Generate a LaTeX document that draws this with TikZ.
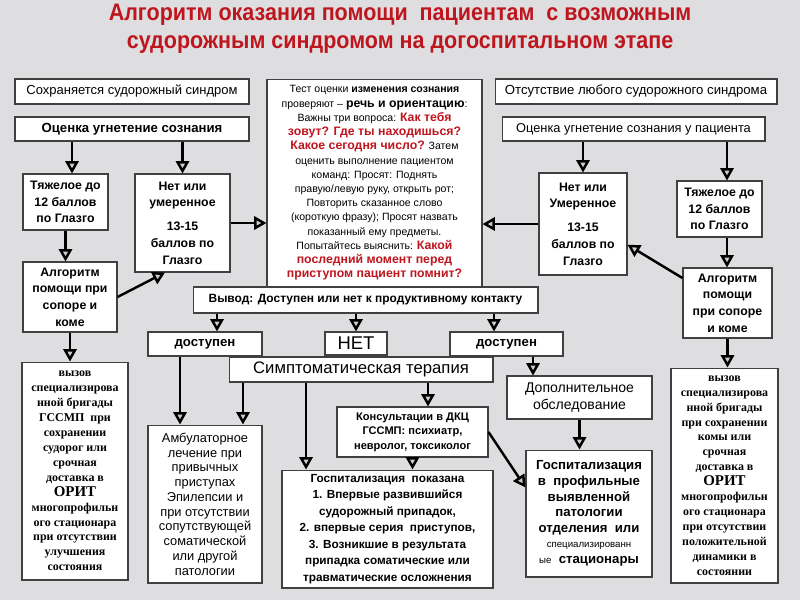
\documentclass[tikz,border=0pt]{standalone}
\usepackage{fontspec}
\setmainfont{Liberation Sans}
\newfontfamily\titlefont[FakeStretch=0.9]{Liberation Sans}
\newfontfamily\serbold{Liberation Serif}
\usetikzlibrary{arrows.meta}
\definecolor{titlered}{RGB}{190,22,30}
\definecolor{marble}{RGB}{222,222,224}
\newcommand{\rd}[1]{{\color{titlered}\bfseries\fontsize{7}{8.1}\selectfont #1}}
\begin{document}
\begin{tikzpicture}[x=0.02cm,y=-0.02cm,
   box/.style={draw=black!75,fill=white,line width=0.6pt,inner sep=0pt,align=center},
   hd/.style={font=\fontsize{7.4}{8}\selectfont},
   bhd/.style={font=\bfseries\fontsize{7.5}{8}\selectfont},
   grade/.style={font=\bfseries\fontsize{7}{9.5}\selectfont},
   call/.style={font=\serbold\bfseries\fontsize{6.8}{8.5}\selectfont},
   arr/.style={-{Triangle[length=7pt,width=7.5pt,fill=black!20]},line width=1.4pt}]
\fill[marble] (0,0) rectangle (800,600);
\useasboundingbox (0,0) rectangle (800,600);
\node[font=\titlefont\bfseries\fontsize{13.6}{16}\selectfont,text=titlered,align=center] (H) at (400,29)
  {Алгоритм оказания помощи\ \ пациентам\ \ с возможным\\судорожным синдромом на догоспитальном этапе};
% left branch
\node[box,hd,minimum width=4.68cm,minimum height=0.5cm] (S) at (132,91.5) {Сохраняется судорожный синдром};
\node[box,bhd,minimum width=4.68cm,minimum height=0.48cm] (OL) at (132,129) {Оценка угнетение сознания};
\node[box,grade,minimum width=1.7cm,minimum height=1.12cm] (TL) at (65.5,202) {Тяжелое до\\12 баллов\\по Глазго};
\node[box,grade,minimum width=1.9cm,minimum height=1.96cm] (NL) at (182.5,223) {Нет или\\умеренное\\[4pt]13-15\\баллов по\\Глазго};
\node[box,grade,minimum width=1.88cm,minimum height=1.4cm] (AL) at (70,297) {Алгоритм\\помощи при\\сопоре и\\коме};
\node[box,call,minimum width=2.12cm,minimum height=4.36cm] (VL) at (75,471)
  {вызов\\специализирова\\нной бригады\\ГССМП\ \ при\\сохранении\\судорог или\\срочная\\доставка в\\{\fontsize{8.5}{8.5}\selectfont ОРИТ}\\многопрофильн\\ого стационара\\при отсутствии\\улучшения\\состояния};
% test
\node[box,font=\fontsize{6}{8.1}\selectfont,minimum width=4.3cm,minimum height=4.16cm] (T) at (374.5,183)
  {Тест оценки \textbf{изменения сознания}\\
   проверяют – {\bfseries\fontsize{7}{8.1}\selectfont речь и ориентацию}:\\
   Важны три вопроса: \rd{Как тебя}\\
   \rd{зовут? Где ты находишься?}\\
   \rd{Какое сегодня число?} Затем\\
   оценить выполнение пациентом\\
   команд: Просят: Поднять\\
   правую/левую руку, открыть рот;\\
   Повторить сказанное слово\\
   (короткую фразу); Просят назвать\\
   показанный ему предметы.\\
   Попытайтесь выяснить: \rd{Какой}\\
   \rd{последний момент перед}\\
   \rd{приступом пациент помнит?}};
% right branch
\node[box,font=\fontsize{7.5}{8}\selectfont,minimum width=5.64cm,minimum height=0.5cm] (A) at (636,91.5) {Отсутствие любого судорожного синдрома};
\node[box,font=\fontsize{7.3}{8}\selectfont,minimum width=5.26cm,minimum height=0.48cm] (OR) at (633.5,129) {Оценка угнетение сознания у пациента};
\node[box,grade,minimum width=1.76cm,minimum height=2.04cm] (NR) at (583,224) {Нет или\\Умеренное\\[4pt]13-15\\баллов по\\Глазго};
\node[box,grade,minimum width=1.7cm,minimum height=1.12cm] (TR) at (719.5,209) {Тяжелое до\\12 баллов\\по Глазго};
\node[box,grade,minimum width=1.78cm,minimum height=1.4cm] (AR) at (727.5,303) {Алгоритм\\помощи\\при сопоре\\и коме};
\node[box,call,minimum width=2.14cm,minimum height=4.3cm] (VR) at (724.5,475.5)
  {вызов\\специализирова\\нной бригады\\при сохранении\\комы или\\срочная\\доставка в\\{\fontsize{8.5}{8.5}\selectfont ОРИТ}\\многопрофильн\\ого стационара\\при отсутствии\\положительной\\динамики в\\состоянии};
% conclusion
\node[box,font=\bfseries\fontsize{6.8}{8}\selectfont,minimum width=6.9cm,minimum height=0.52cm] (W) at (365.5,300) {Вывод: Доступен или нет к продуктивному контакту};
\node[box,font=\bfseries\fontsize{7.5}{9}\selectfont,minimum width=2.28cm,minimum height=0.48cm] (DL) at (205,344) {доступен};
\node[box,font=\fontsize{10.5}{12}\selectfont,minimum width=1.24cm,minimum height=0.46cm] (N) at (356,343.5) {НЕТ};
\node[box,font=\bfseries\fontsize{7.5}{9}\selectfont,minimum width=2.26cm,minimum height=0.48cm] (DR) at (506.5,344) {доступен};
\node[box,font=\fontsize{9.5}{11}\selectfont,minimum width=5.28cm,minimum height=0.5cm] (ST) at (361,369.5) {Симптоматическая терапия};
\node[box,font=\fontsize{7.3}{8.4}\selectfont,minimum width=2.28cm,minimum height=3.16cm] (AM) at (205,504)
  {Амбулаторное\\лечение при\\привычных\\приступах\\Эпилепсии и\\при отсутствии\\сопутствующей\\соматической\\или другой\\патологии};
\node[box,font=\bfseries\fontsize{6.3}{8.2}\selectfont,minimum width=3.02cm,minimum height=1cm] (K) at (412.5,432)
  {Консультации в ДКЦ\\ГССМП: психиатр,\\невролог, токсиколог};
\node[box,font=\bfseries\fontsize{6.7}{9.4}\selectfont,minimum width=4.22cm,minimum height=2.36cm] (G) at (387.5,529)
  {Госпитализация\ \ показана\\1. Впервые развившийся\\судорожный припадок,\\2. впервые серия\ \ приступов,\\3. Возникшие в результата\\припадка соматические или\\травматические осложнения};
\node[box,font=\fontsize{8}{9.6}\selectfont,minimum width=2.9cm,minimum height=0.86cm] (DO) at (579.5,397.5) {Дополнительное\\обследование};
\node[box,font=\bfseries\fontsize{7.5}{8.9}\selectfont,minimum width=2.52cm,minimum height=2.54cm] (GP) at (589,513.5)
  {Госпитализация\\в\ \ профильные\\выявленной\\патологии\\отделения\ \ или\\{\mdseries\fontsize{5.5}{8.9}\selectfont специализированн}\\{\mdseries\fontsize{5.5}{8.9}\selectfont ые}\ \ стационары};
% arrows
\coordinate (p1) at ([xshift=0.13cm]TL.north);
\coordinate (p2) at ([xshift=0.15cm]TR.north);
\draw[arr] (OL.south -| p1) -- (p1);
\draw[arr] (OL.south -| NL.north) -- (NL.north);
\draw[arr] (NL.east) -- (NL.east -| T.west);
\draw[arr] (TL.south) -- (TL.south |- AL.north);
\draw[arr] (AL.east) -- ([xshift=-0.35cm]NL.south);
\draw[arr] (AL.south) -- (AL.south |- VL.north);
\draw[arr] (OR.south -| NR.north) -- (NR.north);
\draw[arr] (OR.south -| p2) -- (p2);
\draw[arr] (NR.west) -- (NR.west -| T.east);
\draw[arr] (p2 |- TR.south) -- (p2 |- AR.north);
\draw[arr] (AR.151) -- (NR.335);
\draw[arr] (AR.south) -- (AR.south |- VR.north);
\coordinate (p3) at ([xshift=0.24cm]DL.north);
\coordinate (p4) at ([xshift=-0.25cm]DR.north);
\coordinate (p5) at ([xshift=-0.5cm]AM.north);
\coordinate (p6) at ([xshift=0.76cm]AM.north);
\coordinate (p7) at ([xshift=-1.63cm]G.north);
\coordinate (p8) at ([xshift=0.31cm]K.north);
\coordinate (p9) at ([xshift=-0.93cm]DO.north);
\draw[arr] (W.south -| p3) -- (p3);
\draw[arr] (W.south -| N.north) -- (N.north);
\draw[arr] (W.south -| p4) -- (p4);
\draw[arr] (DL.south -| p5) -- (p5);
\draw[arr] (ST.south -| p6) -- (p6);
\draw[arr] (ST.south -| p7) -- (p7);
\draw[arr] (ST.south -| p8) -- (p8);
\draw[arr] (K.south) -- (K.south |- G.north);
\draw[arr] (K.east) -- ([yshift=0.52cm]GP.west);
\draw[arr] (DR.south -| p9) -- (p9);
\draw[arr] (DO.south) -- (DO.south |- GP.north);
\end{tikzpicture}
\end{document}
